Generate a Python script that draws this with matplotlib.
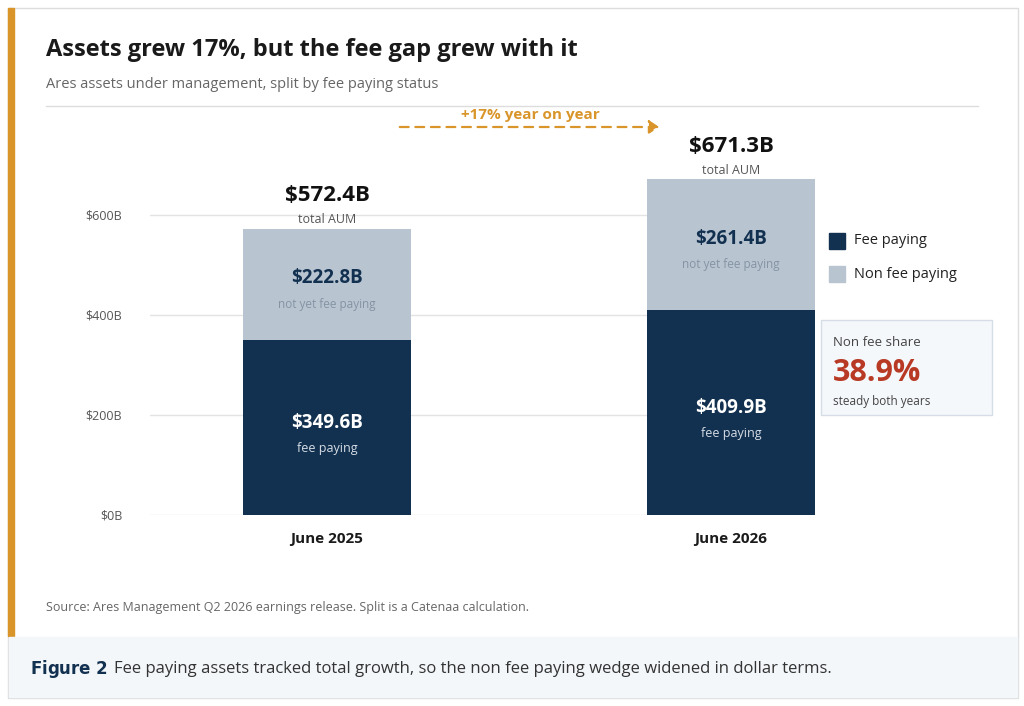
import matplotlib.pyplot as plt
from matplotlib.patches import Rectangle, FancyArrowPatch

# Data (billions USD)
periods = ["June 2025", "June 2026"]
fee_paying = [349.6, 409.9]
non_fee = [222.8, 261.4]
totals = [572.4, 671.3]
y_ticks = [0, 200, 400, 600]
tick_labels = ["$0B", "$200B", "$400B", "$600B"]

navy = "#12304f"
grey_blue = "#b8c4d0"
orange = "#d9952a"
red = "#b83a25"
W, H = 1024, 706

plt.rcParams['font.family'] = ['Open Sans', 'DejaVu Sans']
fig = plt.figure(figsize=(W / 100, H / 100), dpi=100)


def px(x, y):
    return x / W, 1 - y / H


def ftext(x, y, s, **kw):
    fig.text(*px(x, y), s, transform=fig.transFigure, **kw)


# card frame, accent bar and caption strip
fig.patches.append(Rectangle(px(8, 698), 1010 / W, 690 / H, transform=fig.transFigure,
                             fill=False, ec="#dddddd", lw=1))
fig.patches.append(Rectangle(px(8, 636), 6 / W, 628 / H, transform=fig.transFigure,
                             color=orange))
fig.patches.append(Rectangle(px(9, 697), 1008 / W, 60 / H, transform=fig.transFigure,
                             color="#f3f7fa"))
fig.add_artist(plt.Line2D([46 / W, 978 / W], [1 - 106 / H] * 2, color="#dddddd", lw=1))

ftext(46, 50, "Assets grew 17%, but the fee gap grew with it", fontsize=17,
      fontweight="bold", color="#1a1a1a", va="center")
ftext(46, 84, "Ares assets under management, split by fee paying status", fontsize=10.5,
      color="#666666", va="center")
ftext(46, 607, "Source: Ares Management Q2 2026 earnings release. Split is a Catenaa calculation.",
      fontsize=9, color="#666666", va="center")
ftext(30, 669, r"$\bf{Figure\ 2}$", fontsize=12, color=navy, va="center")
ftext(114, 669, "Fee paying assets tracked total growth, so the non fee paying wedge widened in dollar terms.",
      fontsize=12, color="#333333", va="center")

ax = fig.add_axes([150 / W, (706 - 515) / H, 665 / W, 375 / H])
x = [0, 1]
bw = 0.416
ax.bar(x, fee_paying, width=bw, color=navy, zorder=3)
ax.bar(x, non_fee, width=bw, bottom=fee_paying, color=grey_blue, zorder=3)
ax.set_xlim(-0.438, 1.208)
ax.set_ylim(0, 750)
ax.set_yticks(y_ticks)
ax.set_yticklabels(tick_labels, fontsize=9, color="#555555")
ax.grid(axis="y", color="#e3e3e3", lw=1, zorder=0)
ax.set_xticks(x)
ax.set_xticklabels(periods, fontsize=11, fontweight="bold", color="#1a1a1a")
ax.tick_params(length=0, pad=12)
ax.tick_params(axis="y", pad=20)
for s in ax.spines.values():
    s.set_visible(False)

for i in x:
    f, n, t = fee_paying[i], non_fee[i], totals[i]
    ax.text(i, f / 2 + 10, f"${f:.1f}B", ha="center", va="center", color="white",
            fontsize=13.5, fontweight="bold")
    ax.text(i, f / 2 - 42, "fee paying", ha="center", va="center", color="#d5dde6", fontsize=9)
    ax.text(i, f + n / 2 + 12, f"${n:.1f}B", ha="center", va="center", color=navy,
            fontsize=13.5, fontweight="bold")
    ax.text(i, f + n / 2 - 40, "not yet fee paying", ha="center", va="center",
            color="#8593a3", fontsize=8.5)
    ax.text(i, t + 66, f"${t:.1f}B", ha="center", va="center", color="#111111",
            fontsize=16, fontweight="bold", clip_on=False)
    ax.text(i, t + 18, "total AUM", ha="center", va="center", color="#555555",
            fontsize=9, clip_on=False)

# growth arrow
growth = (totals[1] / totals[0] - 1) * 100
fig.add_artist(FancyArrowPatch(px(397, 127), px(662, 127), transform=fig.transFigure,
                               arrowstyle="-|>,head_length=6,head_width=4", color=orange,
                               lw=1.6, linestyle=(0, (4, 3))))
ftext(530, 115, f"+{growth:.0f}% year on year", fontsize=11, fontweight="bold",
      color=orange, ha="center", va="center")

# legend
for yy, c, lab in [(241, navy, "Fee paying"), (274, grey_blue, "Non fee paying")]:
    fig.patches.append(Rectangle(px(829, yy + 8), 16 / W, 16 / H, transform=fig.transFigure, color=c))
    ftext(854, yy, lab, fontsize=10.5, color="#222222", va="center")

# share callout
share = non_fee[1] / totals[1] * 100
fig.patches.append(Rectangle(px(821, 415), 171 / W, 95 / H, transform=fig.transFigure,
                             fc="#f5f8fb", ec="#d5dde6", lw=1))
ftext(833, 342, "Non fee share", fontsize=9.5, color="#444444", va="center")
ftext(833, 373, f"{share:.1f}%", fontsize=22, fontweight="bold", color=red, va="center")
ftext(833, 401, "steady both years", fontsize=8.5, color="#444444", va="center")

fig.savefig("out.png", dpi=100)
